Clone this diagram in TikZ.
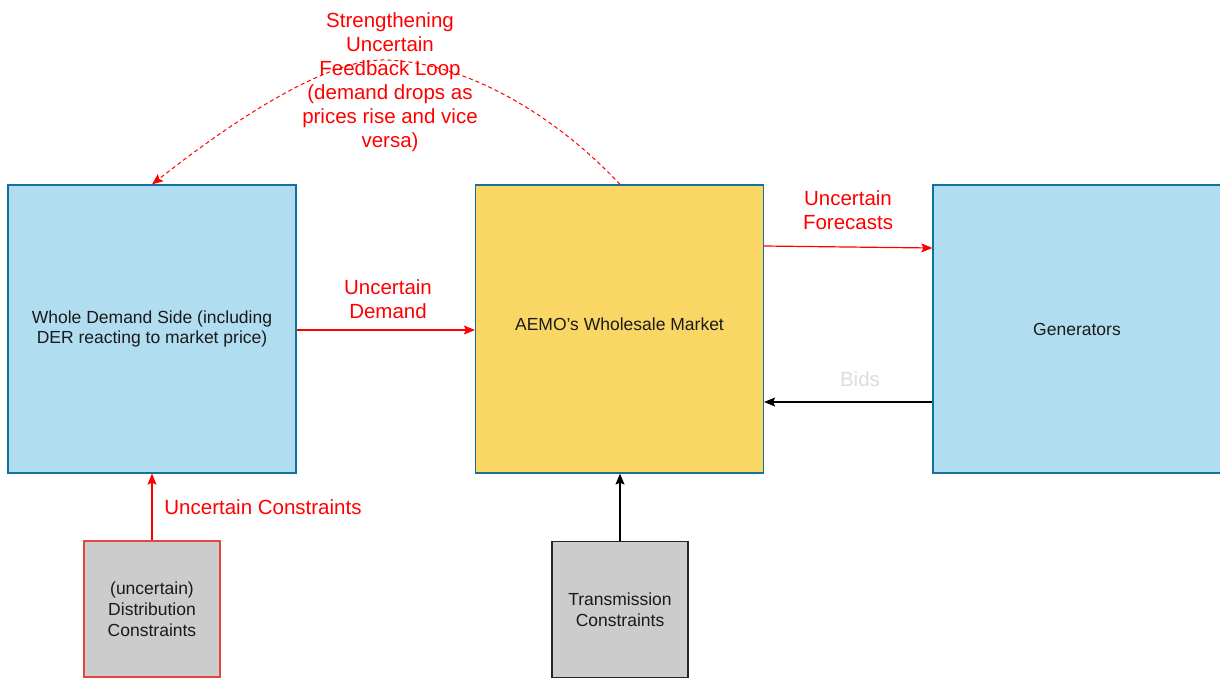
\documentclass[tikz,border=0pt]{standalone}
\usepackage{fontspec}
\setmainfont{Liberation Sans}
\usetikzlibrary{arrows.meta}
\definecolor{boxblue}{HTML}{B1DDF0}
\definecolor{edgeblue}{HTML}{10739E}
\definecolor{boxyellow}{HTML}{FAD764}
\definecolor{boxgray}{HTML}{CCCCCC}
\definecolor{redline}{HTML}{FF0000}
\definecolor{redbox}{HTML}{E04848}
\definecolor{bidgray}{HTML}{DDDDDD}
\definecolor{txt}{HTML}{1A1A1A}
\tikzset{
  bigbox/.style={draw=edgeblue, line width=1.2pt, minimum width=288pt, minimum height=288pt, inner sep=0pt, align=center, text=txt, font=\fontsize{17.5}{20}\selectfont},
  smallbox/.style={draw, fill=boxgray, line width=1.3pt, minimum width=136pt, minimum height=136pt, inner sep=0pt, align=center, text=txt, font=\fontsize{17.5}{21}\selectfont},
  redlab/.style={text=redline, align=center, font=\fontsize{20.5}{24}\selectfont},
  redarrow/.style={draw=redline, line width=1.2pt, -{Stealth[length=11pt,width=9pt,inset=2pt]}},
  blackarrow/.style={draw=black, line width=1.2pt, -{Stealth[length=11pt,width=9pt,inset=2pt]}},
  fbarrow/.style={draw=redline, line width=1pt, dashed, dash pattern=on 4pt off 3pt, -{Stealth[length=11pt,width=9pt,inset=2pt]}}
}
\begin{document}
\begin{tikzpicture}[x=1pt,y=-1pt]
\useasboundingbox (0,0) rectangle (1220,686);
\node[bigbox, fill=boxblue] (demand) at (152,329) {Whole Demand Side (including\\DER reacting to market price)};
\node[bigbox, fill=boxyellow] (aemo) at (619.5,329) {\raisebox{9pt}{AEMO's Wholesale Market}};
\node[bigbox, fill=boxblue] (gen) at (1077,329) {Generators};
\node[smallbox, draw=redbox] (dist) at (152,609) {(uncertain)\\Distribution\\Constraints};
\node[smallbox, draw=black!85] (trans) at (620,609.5) {Transmission\\Constraints};

% labels
\node[redlab] (lfb) at (390,82) {Strengthening\\Uncertain\\Feedback Loop\\(demand drops as\\prices rise and vice\\versa)};
\node[redlab] (ldem) at (388,299) {Uncertain\\Demand};
\node[redlab] (lfc) at (848,210) {Uncertain\\Forecasts};
\node[redlab, text=bidgray] (lbid) at (860,379) {Bids};
\node[redlab] (lcon) at (263,507) {Uncertain Constraints};

% connectors
\draw[redarrow] (demand.east |- 0,330) -- (aemo.west |- 0,330);
\draw[redarrow] (aemo.east |- 0,246) -- (gen.west |- 0,248);
\draw[blackarrow] (gen.west |- 0,402) -- (aemo.east |- 0,402);
\draw[redarrow] (dist.north) -- (demand.south);
\draw[blackarrow] (trans.north) -- (aemo.south -| trans.north);
\coordinate (fbtop) at (385,60);
\draw[fbarrow] (aemo.north -| 620,0) .. controls (560,120) and (470,62) .. (fbtop)
  .. controls (320,58.5) and (215,135) .. (demand.north);
\end{tikzpicture}
\end{document}
